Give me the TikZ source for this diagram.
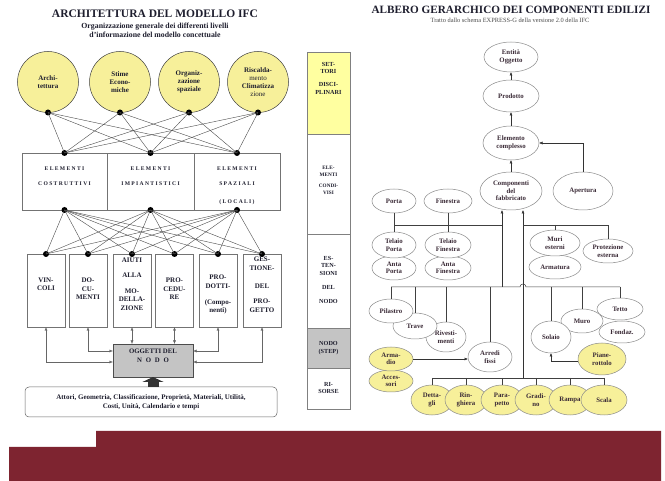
\documentclass[tikz,border=0pt]{standalone}
\usepackage{fontspec}
\setmainfont{Liberation Serif}
\usetikzlibrary{shapes.geometric,arrows.meta,calc}

\definecolor{ink}{HTML}{1E1E2E}
\definecolor{rink}{HTML}{3A2A36}
\definecolor{lemon}{HTML}{F7F09A}
\definecolor{colyellow}{HTML}{FFFFA0}
\definecolor{nodegray}{HTML}{C4C4C4}
\definecolor{wine}{HTML}{7E2430}
\definecolor{wire}{HTML}{4A4A4A}
\definecolor{rim}{HTML}{8A8A8A}

\newcommand{\txtsize}[2]{\fontsize{#1}{#2}\selectfont}
\newcommand{\spaced}{\addfontfeature{LetterSpace=24}}

\tikzset{
  every node/.style={inner sep=0pt, outer sep=0pt},
  discipline/.style={circle, draw=black!75, fill=lemon, minimum size=61pt, line width=0.5pt,
    font=\bfseries\txtsize{7}{8.2}, align=center, text=ink},
  hub/.style={circle, fill=black, minimum size=6pt},
  cell/.style={rectangle, draw=black!55, minimum height=57pt, line width=0.5pt},
  extbox/.style={rectangle, draw=black!55, minimum width=38pt, minimum height=73pt, line width=0.5pt},
  boxtext/.style={anchor=north, align=center, text=ink, font=\bfseries\txtsize{7}{8.4}},
  elemtext/.style={text=ink, font=\bfseries\txtsize{5.6}{6}\spaced},
  net/.style={draw=wire, line width=0.4pt},
  duplex/.style={draw=black!60, line width=0.45pt,
    {Latex[length=3.5pt,width=3pt]}-{Latex[length=3.5pt,width=3pt]}},
  colseg/.style={rectangle, draw=black!50, minimum width=43pt, line width=0.5pt},
  coltext/.style={align=center, text=ink, font=\bfseries\txtsize{6.2}{7.8}},
  comp/.style={ellipse, draw=rim, fill=white, line width=0.5pt, align=center, text=rink,
    font=\bfseries\txtsize{6.8}{7.4}},
  compy/.style={comp, fill=lemon},
  rwire/.style={draw=black!75, line width=0.5pt},
  rarrow/.style={draw=black!80, line width=0.5pt, -{Latex[length=3.5pt,width=3pt]}}
}

\begin{document}
\begin{tikzpicture}[x=1pt,y=-1pt]
\useasboundingbox (0,0) rectangle (665,481);
\fill[white] (0,0) rectangle (665,481);

% ---------------- left: architecture of the IFC model ----------------
\node[font=\bfseries\txtsize{11.5}{12}, text=ink] (ltitle) at (155,14) {ARCHITETTURA DEL MODELLO IFC};
\node[font=\bfseries\txtsize{7.8}{9}, text=ink, align=center] (lsub) at (155,30)
  {Organizzazione generale dei differenti livelli\\d'informazione del modello concettuale};

% disciplines
\node[discipline] (d1) at (48,82) {Archi-\\tettura};
\node[discipline] (d2) at (120,82) {Stime\\Econo-\\miche};
\node[discipline] (d3) at (189,82) {Organiz-\\zazione\\spaziale};
\node[discipline] (d4) at (258,82) {Riscalda-\\{\mdseries mento}\\Climatizza\\{\mdseries zione}};

% shared elements
\node[cell, minimum width=85pt] (e1) at (64.5,181.5) {};
\node[cell, minimum width=87pt] (e2) at (150.5,181.5) {};
\node[cell, minimum width=86pt] (e3) at (237,181.5) {};
\node[elemtext] (e1a) at (64.5,169) {ELEMENTI};
\node[elemtext] (e1b) at (64.5,184) {COSTRUTTIVI};
\node[elemtext] (e2a) at (150.5,169) {ELEMENTI};
\node[elemtext] (e2b) at (150.5,184) {IMPIANTISTICI};
\node[elemtext] (e3a) at (237,169) {ELEMENTI};
\node[elemtext] (e3b) at (237,184) {SPAZIALI};
\node[elemtext] (e3c) at (237,202) {(LOCALI)};

% node extensions
\node[extbox] (b1) at (46,290.5) {};
\node[extbox] (b2) at (88,290.5) {};
\node[extbox] (b3) at (132,290.5) {};
\node[extbox] (b4) at (174.5,290.5) {};
\node[extbox] (b5) at (218,290.5) {};
\node[extbox] (b6) at (262,290.5) {};
\node[boxtext] (t1) at (46,278) {VIN-\\COLI};
\node[boxtext] (t2) at (88,278) {DO-\\CU-\\MENTI};
\node[boxtext] (t3) at (132,258) {AIUTI\\[6pt]ALLA\\[8pt]MO-\\DELLA-\\ZIONE};
\node[boxtext] (t4) at (174.5,278) {PRO-\\CEDU-\\RE};
\node[boxtext] (t5) at (218,275) {PRO-\\DOTTI-\\[8pt](Compo-\\nenti)};
\node[boxtext] (t6) at (262,257) {GES-\\TIONE-\\[10pt]DEL\\[7pt]PRO-\\GETTO};

% junction dots
\foreach \n in {d1,d2,d3,d4} \node[hub] (\n h) at (\n.south) {};
\foreach \n in {e1,e2,e3} {
  \node[hub] (\n t) at (\n.north) {};
  \node[hub] (\n b) at (\n.south) {};
}
\foreach \n in {b1,b2,b3,b4,b5,b6} \node[hub] (\n h) at (\n.north) {};

% many-to-many links
\foreach \a in {d1,d2,d3,d4} \foreach \b in {e1,e2,e3}
  \draw[net] (\a h.center) -- (\b t.center);
\foreach \a in {e1,e2,e3} \foreach \b in {b1,b2,b3,b4,b5,b6}
  \draw[net] (\a b.center) -- (\b h.center);

% node objects
\node[rectangle, draw=black!70, fill=nodegray, minimum width=80pt, minimum height=33pt, line width=0.5pt]
  (ogg) at (153,360.5) {};
\node[align=center, text=ink, font=\bfseries\txtsize{6.8}{9.5}] (oggt) at (153,356)
  {OGGETTI DEL\\{\addfontfeature{LetterSpace=55}NODO}};

\coordinate (laneHi) at (0,351);
\coordinate (laneLo) at (0,362);
\draw[duplex] (b1.south) |- (ogg.west |- laneLo);
\draw[duplex] (b2.south) |- (ogg.west |- laneHi);
\draw[duplex] (b3.south) -- (b3.south |- ogg.north);
\draw[duplex] (b4.south) -- (b4.south |- ogg.north);
\draw[duplex] (b5.south) |- (ogg.east |- laneHi);
\draw[duplex] (b6.south) |- (ogg.east |- laneLo);

% resources
\node[rectangle, rounded corners=4pt, draw=black!60, minimum width=252pt, minimum height=30pt,
  line width=0.5pt, align=center, text=ink, font=\bfseries\txtsize{7}{9}] (res) at (151,402)
  {Attori, Geometria, Classificazione, Proprietà, Materiali, Utilità,\\Costi, Unità, Calendario e tempi};
\draw[black!80, line width=11pt, -{Triangle[length=5pt,width=21pt]}] (ogg.south |- res.north) -- (ogg.south);

% ---------------- level column ----------------
\node[colseg, fill=colyellow, minimum height=82pt] (c1) at (328.5,93) {};
\node[colseg, minimum height=100pt] (c2) at (328.5,184) {};
\node[colseg, minimum height=94pt] (c3) at (328.5,281) {};
\node[colseg, fill=nodegray, minimum height=40pt] (c4) at (328.5,348) {};
\node[colseg, minimum height=41pt] (c5) at (328.5,388.5) {};
\node[coltext, anchor=north] (c1t) at (328.5,62) {SET-\\TORI\\[5pt]DISCI-\\PLINARI};
\node[coltext, anchor=north, font=\bfseries\txtsize{5.2}{7}] (c2t) at (328.5,166) {ELE-\\MENTI\\[4pt]CONDI-\\VISI};
\node[coltext, anchor=north] (c3t) at (328.5,256) {ES-\\TEN-\\SIONI\\[6pt]DEL\\[6pt]NODO};
\node[coltext] (c4t) at (328.5,348) {NODO\\(STEP)};
\node[coltext] (c5t) at (328.5,388) {RI-\\SORSE};

% ---------------- right: hierarchy of building components ----------------
\node[font=\bfseries\txtsize{11.2}{12}, text=ink] (rtitle) at (511,10) {ALBERO GERARCHICO DEI COMPONENTI EDILIZI};
\node[font=\txtsize{6.4}{7}, text=black!70] (rsub) at (510,20) {Tratto dallo schema EXPRESS-G della versione 2.0 della IFC};

\node[comp, minimum width=54pt, minimum height=30pt] (ent) at (511,57) {Entità\\Oggetto};
\node[comp, minimum width=56pt, minimum height=32pt] (prod) at (511,96) {Prodotto};
\node[comp, minimum width=56pt, minimum height=34pt] (elem) at (511,143) {Elemento\\complesso};
\node[comp, minimum width=62pt, minimum height=38pt] (compo) at (511,191) {Componenti\\del\\fabbricato};
\node[comp, minimum width=60pt, minimum height=38pt] (aper) at (583,191) {Apertura};

\node[comp, minimum width=44pt, minimum height=24pt] (porta) at (394,201) {Porta};
\node[comp, minimum width=48pt, minimum height=24pt] (fin) at (448,201) {Finestra};
\node[comp, minimum width=44pt, minimum height=24pt] (antaP) at (394,268) {Anta\\Porta};
\node[comp, minimum width=44pt, minimum height=26pt] (telP) at (394,245) {Telaio\\Porta};
\node[comp, minimum width=46pt, minimum height=24pt] (antaF) at (448,268) {Anta\\Finestra};
\node[comp, minimum width=46pt, minimum height=26pt] (telF) at (448,245) {Telaio\\Finestra};

\node[comp, minimum width=52pt, minimum height=24pt] (arm) at (555,267) {Armatura};
\node[comp, minimum width=50pt, minimum height=26pt] (muri) at (555,243) {Muri\\esterni};
\node[comp, minimum width=50pt, minimum height=24pt] (prot) at (608,251) {Protezione\\esterna};

\node[comp, minimum width=44pt, minimum height=30pt] (arr) at (490,357) {Arredi\\fissi};
\node[comp, minimum width=40pt, minimum height=30pt] (riv) at (446,337) {Rivesti-\\menti};
\node[comp, minimum width=44pt, minimum height=26pt] (trave) at (415,326) {Trave};
\node[comp, minimum width=44pt, minimum height=24pt] (pil) at (391,311) {Pilastro};
\node[compy, minimum width=44pt, minimum height=22pt] (acc) at (391,381) {Acces-\\sori};
\node[compy, minimum width=44pt, minimum height=24pt] (armadio) at (391,359) {Arma-\\dio};

\node[comp, minimum width=46pt, minimum height=22pt] (fond) at (622,332) {Fondaz.};
\node[comp, minimum width=46pt, minimum height=22pt] (tetto) at (620,309) {Tetto};
\node[comp, minimum width=42pt, minimum height=24pt] (muro) at (582,321) {Muro};
\node[comp, minimum width=40pt, minimum height=32pt] (sol) at (551,337) {Solaio};
\node[compy, minimum width=48pt, minimum height=32pt] (pian) at (602,359) {Piane-\\rottolo};

\node[compy, minimum width=42pt, minimum height=30pt] (det) at (432,400) {Detta-\\gli};
\node[compy, minimum width=42pt, minimum height=30pt] (ring) at (466,400) {Rin-\\ghiera};
\node[compy, minimum width=42pt, minimum height=30pt] (para) at (502,400) {Para-\\petto};
\node[compy, minimum width=42pt, minimum height=30pt] (grad) at (536,400) {Gradi-\\no};
\node[compy, minimum width=42pt, minimum height=30pt] (rampa) at (570,400) {Rampa};
\node[compy, minimum width=46pt, minimum height=30pt] (scala) at (604,400) {Scala};

% upward chain
\draw[rarrow] (prod.north) -- (ent.south);
\draw[rarrow] (elem.north) -- (prod.south);
\draw[rarrow] (compo.north) -- (elem.south);
\draw[rarrow] (aper.north) |- (elem.east);

% trunks into the building components
\coordinate (busA) at (502,225);
\coordinate (busB) at (523,225);
\coordinate (busC) at (502,287);
\coordinate (busD) at (523,378);
\draw[rarrow] (busC) -- (busC |- compo.south);
\draw[rarrow] (busD) -- (busD |- compo.south);

% openings
\draw[rwire] (porta.south) -- (telP.north);
\draw[rwire] (fin.south) -- (telF.north);
\draw[rwire] (porta.south |- busA) -- (busA);
\draw[rwire] (busB) -| (prot.north);
\draw[rwire] (muri.north |- busB) -- (muri.north);

% structural elements (line hops over the right trunk)
\coordinate (hopL) at (520,287);
\draw[rwire] (pil.north |- busC) -- (hopL) arc[start angle=180, end angle=360, radius=3] -- (tetto.north |- busC);
\foreach \n in {pil,trave,riv,arr,sol,muro,tetto}
  \draw[rwire] (\n.north |- busC) -- (\n.north);

% stair parts
\draw[rwire] (det.north |- busD) -- (scala.north |- busD);
\foreach \n in {det,ring,para,grad,rampa,scala}
  \draw[rwire] (\n.north |- busD) -- (\n.north);

% aggregation arrows
\draw[rarrow] (armadio.east) -- (arr.west |- armadio.east);
\draw[rarrow] ([yshift=-2pt]pian.west) -| (sol.south);

% ---------------- footer band ----------------
\fill[wine] (9,447) -- (96,447) -- (96,431) -- (661,431) -- (661,481) -- (9,481) -- cycle;
\end{tikzpicture}
\end{document}
